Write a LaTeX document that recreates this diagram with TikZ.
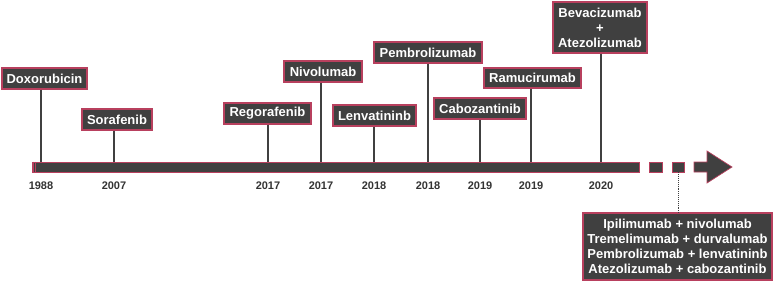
\documentclass[tikz,border=0pt]{standalone}
\usepackage{fontspec}
\setmainfont{Liberation Sans}
\usetikzlibrary{shadows}
\definecolor{boxgray}{HTML}{404040}
\definecolor{rim}{HTML}{B8405E}
\definecolor{yeargray}{HTML}{333333}
\begin{document}
\begin{tikzpicture}[x=1pt,y=-1pt,
  drug/.style={draw=rim, line width=1.1pt, fill=boxgray, text=white,
    font=\fontsize{13}{15}\selectfont\bfseries, inner sep=0pt, align=center,
    drop shadow={shadow xshift=1.3pt, shadow yshift=-1.3pt, fill=black!30, opacity=0.6}},
  year/.style={font=\fontsize{11}{12}\selectfont\bfseries, text=yeargray},
  stem/.style={draw=boxgray, line width=1.2pt},
  barpart/.style={draw=rim, line width=0.7pt, fill=boxgray, inner sep=0pt}]
\useasboundingbox (0,0) rectangle (777,285);

% timeline
\node[barpart, minimum width=607pt, minimum height=10pt] (bar) at (335.5,167) {};
\draw[rim, line width=0.8pt] ([xshift=1.5pt]bar.north west) -- ([xshift=1.5pt]bar.south west);
\draw[rim, line width=0.8pt] ([xshift=3.5pt]bar.north west) -- ([xshift=3.5pt]bar.south west);
\node[barpart, minimum width=13pt, minimum height=10pt] (d1) at (655.5,167) {};
\node[barpart, minimum width=12pt, minimum height=10pt] (d2) at (678,167) {};
\draw[draw=rim, line width=0.7pt, fill=boxgray]
  (694,162) -- (707,162) -- (707,151) -- (732,167) -- (707,183) -- (707,172) -- (694,172) -- cycle;

% years
\node[year] (y1) at (41,186) {1988};
\node[year] (y2) at (114,186) {2007};
\node[year] (y3) at (268,186) {2017};
\node[year] (y4) at (321,186) {2017};
\node[year] (y5) at (374,186) {2018};
\node[year] (y6) at (428,186) {2018};
\node[year] (y7) at (480,186) {2019};
\node[year] (y8) at (531,186) {2019};
\node[year] (y9) at (601,186) {2020};

% drug boxes
\node[drug, minimum width=85pt, minimum height=21pt] (dox) at (44.5,78.5) {Doxorubicin};
\node[drug, minimum width=70pt, minimum height=21pt] (sora) at (117,119.5) {Sorafenib};
\node[drug, minimum width=87pt, minimum height=21pt] (rego) at (267.5,113.5) {Regorafenib};
\node[drug, minimum width=78pt, minimum height=21pt] (nivo) at (323,71.5) {Nivolumab};
\node[drug, minimum width=83pt, minimum height=21pt] (lenva) at (374.5,115.5) {Lenvatininb};
\node[drug, minimum width=108pt, minimum height=21pt] (pembro) at (428,52.5) {Pembrolizumab};
\node[drug, minimum width=92pt, minimum height=21pt] (cabo) at (480,108.5) {Cabozantinib};
\node[drug, minimum width=97pt, minimum height=20pt] (ramu) at (532.5,78) {Ramucirumab};
\node[drug, minimum width=94pt, minimum height=51pt] (bev) at (600,27.5) {Bevacizumab\\+\\Atezolizumab};
\node[drug, minimum width=189pt, minimum height=67pt] (future) at (677.5,246.5)
  {Ipilimumab + nivolumab\\Tremelimumab + durvalumab\\Pembrolizumab + lenvatininb\\Atezolizumab + cabozantinib};

% stems
\draw[stem] (dox.south -| y1) -- (bar.north -| y1);
\draw[stem] (sora.south -| y2) -- (bar.north -| y2);
\draw[stem] (rego.south -| y3) -- (bar.north -| y3);
\draw[stem] (nivo.south -| y4) -- (bar.north -| y4);
\draw[stem] (lenva.south -| y5) -- (bar.north -| y5);
\draw[stem] (pembro.south -| y6) -- (bar.north -| y6);
\draw[stem] (cabo.south -| y7) -- (bar.north -| y7);
\draw[stem] (ramu.south -| y8) -- (bar.north -| y8);
\draw[stem] (bev.south -| y9) -- (bar.north -| y9);
\draw[boxgray, line width=0.9pt, densely dotted] (d2.south) -- (future.north -| d2.south);
\end{tikzpicture}
\end{document}
